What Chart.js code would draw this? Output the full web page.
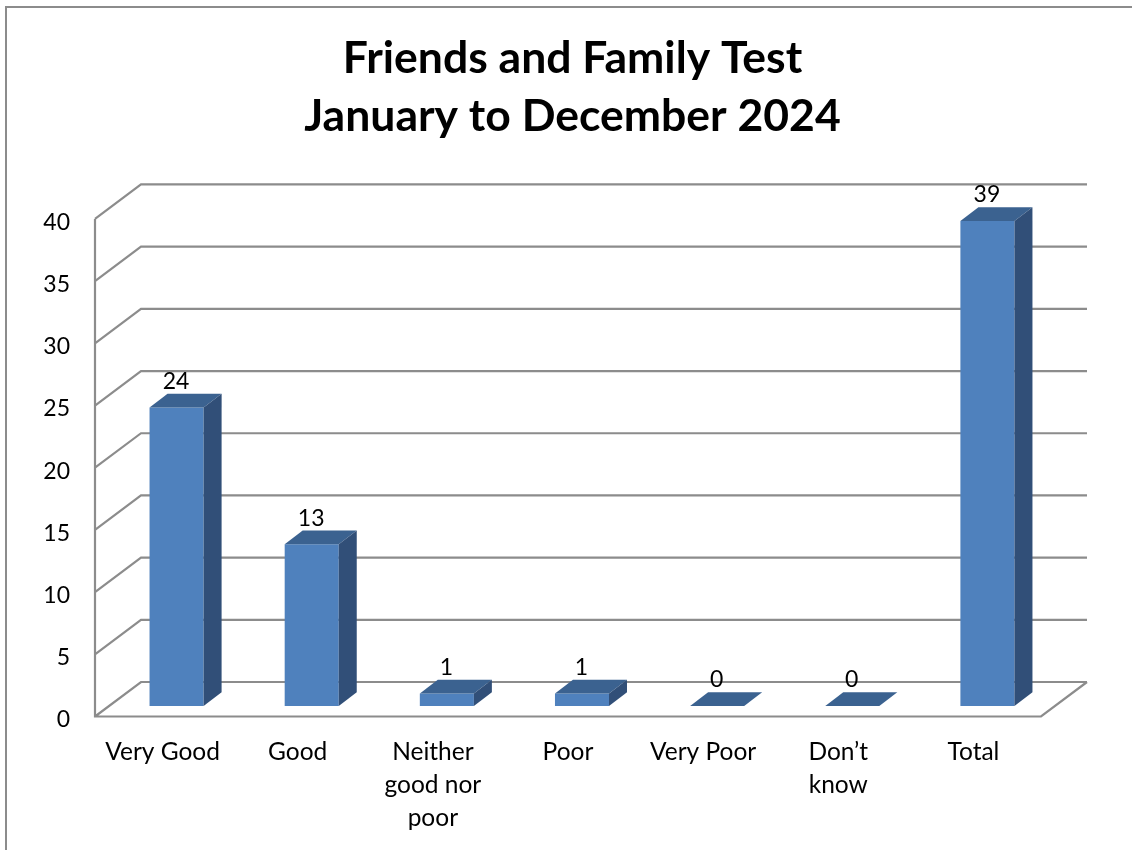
<!DOCTYPE html>
<html>
<head>
<meta charset="utf-8">
<title>Friends and Family Test</title>
<script src="https://cdn.jsdelivr.net/npm/chart.js@4"></script>
<style>
    html, body { margin: 0; padding: 0; background: #fff; overflow: hidden; }
    #moldura { position: absolute; left: 5px; top: 6px; width: 1200px; height: 900px; border-left: 2px solid #8c8c8c; border-top: 2px solid #8c8c8c; }
    #grafico { position: absolute; left: 0; top: 0; }
</style>
</head>
<body>
<div id="moldura"></div>
<canvas id="grafico" width="1145" height="850"></canvas>
<script>
const categorias = ['Very Good', 'Good', ['Neither', 'good nor', 'poor'], 'Poor', 'Very Poor', ['Don’t', 'know'], 'Total'];
const valores = [24, 13, 1, 1, 0, 0, 39];
const titulo = ['Friends and Family Test', 'January to December 2024'];

const fonte = 'Lato';
const corGrade = '#8c8c8c';

// paredes do "3D": fundo deslocado em relacao a frente
const paredeX = 46, paredeY = 34.5;
// barra fica no meio do piso
const barraX = 14, barraY = 10.5;
const fundoBarraX = 18, fundoBarraY = 13.7;

const grade3d = {
    id: 'grade3d',
    beforeDatasetsDraw(chart) {
        const ctx = chart.ctx;
        const y = chart.scales.y;
        const esq = chart.chartArea.left, dir = chart.chartArea.right;
        const y0 = y.getPixelForValue(0);

        ctx.save();
        ctx.strokeStyle = corGrade;
        ctx.lineWidth = 2.2;
        ctx.beginPath();
        y.ticks.forEach(function (t) {
            const py = y.getPixelForValue(t.value);
            ctx.moveTo(esq, py);
            ctx.lineTo(esq + paredeX, py - paredeY);
            ctx.lineTo(dir + paredeX, py - paredeY);
        });
        // eixo e piso
        ctx.moveTo(esq, y.getPixelForValue(y.max));
        ctx.lineTo(esq, y0);
        ctx.lineTo(dir, y0);
        ctx.lineTo(dir + paredeX, y0 - paredeY);
        ctx.stroke();
        ctx.restore();

        ctx.save();
        ctx.translate(barraX, -barraY);
    },
    afterDatasetsDraw(chart) {
        const ctx = chart.ctx;
        ctx.restore();

        const barras = chart.getDatasetMeta(0).data;
        barras.forEach(function (b, i) {
            const esq = b.x - b.width / 2 + barraX;
            const dir = b.x + b.width / 2 + barraX;
            const topo = b.y - barraY;
            const base = b.base - barraY;

            ctx.fillStyle = '#3b6290';
            ctx.beginPath();
            ctx.moveTo(esq, topo);
            ctx.lineTo(esq + fundoBarraX, topo - fundoBarraY);
            ctx.lineTo(dir + fundoBarraX, topo - fundoBarraY);
            ctx.lineTo(dir, topo);
            ctx.closePath();
            ctx.fill();

            ctx.fillStyle = '#314f78';
            ctx.beginPath();
            ctx.moveTo(dir, topo);
            ctx.lineTo(dir + fundoBarraX, topo - fundoBarraY);
            ctx.lineTo(dir + fundoBarraX, base - fundoBarraY);
            ctx.lineTo(dir, base);
            ctx.closePath();
            ctx.fill();

            ctx.fillStyle = '#000';
            ctx.font = '23px ' + fonte;
            ctx.textAlign = 'center';
            ctx.textBaseline = 'middle';
            ctx.fillText(valores[i], b.x + barraX - 0.5, topo - 26);
        });
    }
};

new Chart(document.getElementById('grafico'), {
    type: 'bar',
    data: {
        labels: categorias,
        datasets: [{
            data: valores,
            yAxisID: 'y',
            backgroundColor: '#4f81bd',
            barPercentage: 0.4,
            categoryPercentage: 1
        }]
    },
    options: {
        responsive: false,
        animation: false,
        devicePixelRatio: 1,
        plugins: {
            legend: { display: false },
            tooltip: { enabled: false },
            title: {
                display: true,
                text: titulo,
                color: '#000',
                font: { family: fonte, size: 44.5, weight: 'bold', lineHeight: 1.303 },
                padding: { top: 30, bottom: 73 }
            }
        },
        scales: {
            x: {
                grid: { display: false },
                border: { display: false },
                ticks: {
                    color: '#000',
                    font: { family: fonte, size: 24.5, lineHeight: 1.343 },
                    maxRotation: 0,
                    autoSkip: false,
                    padding: 11
                },
                afterFit(escala) { escala.height = 133.5; }
            },
            y: {
                min: 0,
                max: 40,
                grid: { display: false, drawTicks: false },
                border: { display: false },
                ticks: {
                    stepSize: 5,
                    color: '#000',
                    font: { family: fonte, size: 23 },
                    padding: 25,
                    labelOffset: 3.5
                },
                afterFit(escala) { escala.width = 95; }
            },
            // so reserva a margem direita, o titulo continua centrado na pagina
            margemDireita: {
                position: 'right',
                grid: { display: false, drawTicks: false },
                border: { display: false },
                ticks: { display: false },
                afterFit(escala) { escala.width = 104; }
            }
        }
    },
    plugins: [grade3d]
});
</script>
</body>
</html>
